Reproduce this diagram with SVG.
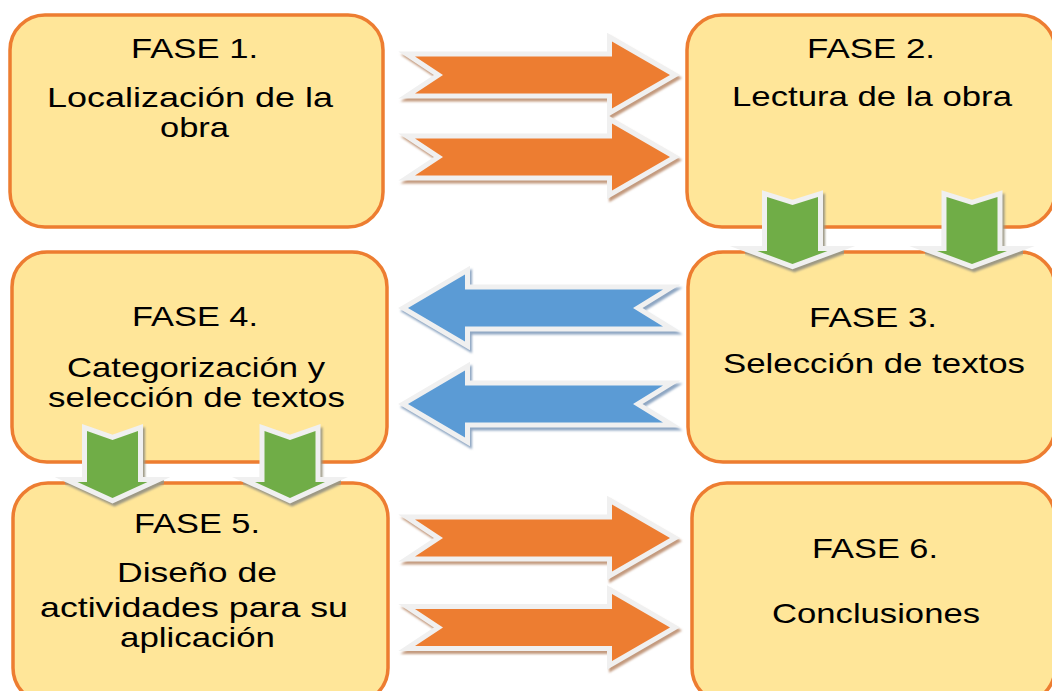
<svg xmlns="http://www.w3.org/2000/svg" xmlns:xlink="http://www.w3.org/1999/xlink" width="1052" height="691" viewBox="0 0 1052 691">
<style>
.box{fill:#FFE699;stroke:#ED7D31;stroke-width:3.5}
.t{font-family:"Liberation Sans",Arial,sans-serif;font-size:28px;fill:#000}
.ol{stroke:#F0F0F0;stroke-width:10;stroke-linejoin:miter;stroke-miterlimit:10;paint-order:stroke}
.sh{stroke-width:10;stroke-linejoin:miter;stroke-miterlimit:10;filter:url(#soft)}
.o{fill:#ED7D31}.b{fill:#5B9BD5}.g{fill:#70AD47}
.sho{fill:#C39A7E;stroke:#C39A7E}.shb{fill:#8EA6C2;stroke:#8EA6C2}.shg{fill:#9C9884;stroke:#9C9884}
</style>
<defs>
<filter id="soft" x="-20%" y="-20%" width="140%" height="140%"><feGaussianBlur stdDeviation="0.8"/></filter>
<polygon id="ao" points="415,-18.5 612,-18.5 612,-33.5 670,0 612,33.5 612,18.5 415,18.5 443,0"/>
<polygon id="ab" points="408,0 465,-33.5 465,-18.5 663,-18.5 633,0 663,18.5 465,18.5 465,33.5"/>
<polygon id="gt" points="-25.5,197 0,205 25.5,197 25.5,251 35,251 0,264 -35,251 -25.5,251"/>
<polygon id="gb" points="-25.5,431 0,440 25.5,431 25.5,482 35,482 0,498 -35,482 -25.5,482"/>
</defs>
<rect width="1052" height="691" fill="#fff"/>

<g id="fase1">
<rect class="box" x="10" y="15" width="373" height="212" rx="35"/>
<text class="t" x="131" y="58" textLength="127" lengthAdjust="spacingAndGlyphs">FASE 1.</text>
<text class="t" x="47" y="107" textLength="286" lengthAdjust="spacingAndGlyphs">Localización de la</text>
<text class="t" x="160" y="137" textLength="69" lengthAdjust="spacingAndGlyphs">obra</text>
</g>
<g id="fase2">
<rect class="box" x="687" y="15" width="368" height="212" rx="35"/>
<text class="t" x="807" y="58" textLength="128" lengthAdjust="spacingAndGlyphs">FASE 2.</text>
<text class="t" x="732" y="106" textLength="280" lengthAdjust="spacingAndGlyphs">Lectura de la obra</text>
</g>
<g id="fase3">
<rect class="box" x="688" y="252" width="367" height="210" rx="35"/>
<text class="t" x="809" y="327" textLength="128" lengthAdjust="spacingAndGlyphs">FASE 3.</text>
<text class="t" x="723" y="373" textLength="302" lengthAdjust="spacingAndGlyphs">Selección de textos</text>
</g>
<g id="fase4">
<rect class="box" x="12" y="252" width="375" height="210" rx="35"/>
<text class="t" x="132" y="326" textLength="126" lengthAdjust="spacingAndGlyphs">FASE 4.</text>
<text class="t" x="67" y="377" textLength="258" lengthAdjust="spacingAndGlyphs">Categorización y</text>
<text class="t" x="48" y="407" textLength="297" lengthAdjust="spacingAndGlyphs">selección de textos</text>
</g>
<g id="fase5">
<rect class="box" x="13" y="483" width="375" height="220" rx="35"/>
<text class="t" x="134" y="533" textLength="126" lengthAdjust="spacingAndGlyphs">FASE 5.</text>
<text class="t" x="117" y="582" textLength="160" lengthAdjust="spacingAndGlyphs">Diseño de</text>
<text class="t" x="40" y="617" textLength="308" lengthAdjust="spacingAndGlyphs">actividades para su</text>
<text class="t" x="120" y="647" textLength="155" lengthAdjust="spacingAndGlyphs">aplicación</text>
</g>
<g id="fase6">
<rect class="box" x="692" y="483" width="363" height="220" rx="35"/>
<text class="t" x="812" y="558" textLength="126" lengthAdjust="spacingAndGlyphs">FASE 6.</text>
<text class="t" x="772" y="623" textLength="208" lengthAdjust="spacingAndGlyphs">Conclusiones</text>
</g>

<g id="connectors">
<g id="c1-2a"><use xlink:href="#ao" class="sh sho" transform="translate(2,78)"/><use xlink:href="#ao" class="ol o" transform="translate(0,75)"/></g>
<g id="c1-2b"><use xlink:href="#ao" class="sh sho" transform="translate(2,160)"/><use xlink:href="#ao" class="ol o" transform="translate(0,157)"/></g>
<g id="c3-4a"><use xlink:href="#ab" class="sh shb" transform="translate(2,311)"/><use xlink:href="#ab" class="ol b" transform="translate(0,308)"/></g>
<g id="c3-4b"><use xlink:href="#ab" class="sh shb" transform="translate(2,407)"/><use xlink:href="#ab" class="ol b" transform="translate(0,404)"/></g>
<g id="c5-6a"><use xlink:href="#ao" class="sh sho" transform="translate(2,541)"/><use xlink:href="#ao" class="ol o" transform="translate(0,538)"/></g>
<g id="c5-6b"><use xlink:href="#ao" class="sh sho" transform="translate(2,630.5)"/><use xlink:href="#ao" class="ol o" transform="translate(0,627.5)"/></g>
<g id="c2-3a"><use xlink:href="#gt" class="sh shg" transform="translate(794.5,3)"/><use xlink:href="#gt" class="ol g" transform="translate(792.5,0)"/></g>
<g id="c2-3b"><use xlink:href="#gt" class="sh shg" transform="translate(974,3)"/><use xlink:href="#gt" class="ol g" transform="translate(972,0)"/></g>
<g id="c4-5a"><use xlink:href="#gb" class="sh shg" transform="translate(114.5,3)"/><use xlink:href="#gb" class="ol g" transform="translate(112.5,0)"/></g>
<g id="c4-5b"><use xlink:href="#gb" class="sh shg" transform="translate(292,3)"/><use xlink:href="#gb" class="ol g" transform="translate(290,0)"/></g>
</g>
</svg>
